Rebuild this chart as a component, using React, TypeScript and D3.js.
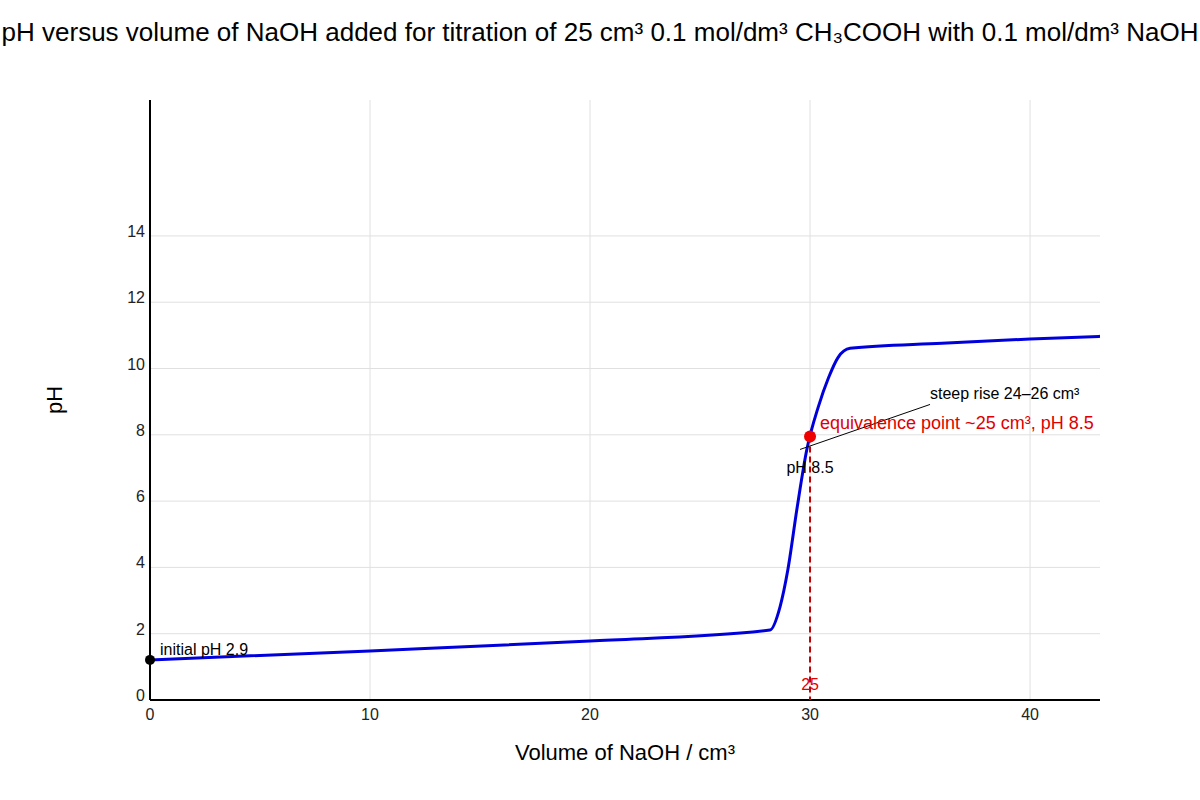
import React from "react";
import * as d3 from "d3";

const volumes = [0, 10, 20, 28.18, 28.64, 28.99, 29.42, 29.85, 30.38, 30.84, 31.27, 31.82, 36, 40, 43.18];
const phValues = [1.21, 1.48, 1.78, 2.11, 2.82, 3.92, 5.83, 7.54, 8.85, 9.72, 10.33, 10.61, 10.76, 10.89, 10.97];
const xTicks = [0, 10, 20, 30, 40];
const yTicks = [0, 2, 4, 6, 8, 10, 12, 14];
const equivalence = { x: 30, y: 7.95 };
const initialPoint = { x: 0, y: 1.21 };

const W = 1200;
const H = 800;
const M = { left: 150, right: 100, top: 100, bottom: 100 };
const FONT = "'Liberation Sans', Arial, sans-serif";

export default function App() {
  const x = d3.scaleLinear().domain([0, 43.18]).range([M.left, W - M.right]);
  const y = d3.scaleLinear().domain([0, 18.1]).range([H - M.bottom, M.top]);
  const line = d3
    .line<number>()
    .x((_, i) => x(volumes[i]))
    .y((d) => y(d))
    .curve(d3.curveMonotoneX);
  const path = line(phValues) || "";
  const ex = x(equivalence.x);
  const ey = y(equivalence.y);

  return (
    <svg width={W} height={H} style={{ position: "absolute", left: 0, top: 0, background: "#fff" }} fontFamily={FONT}>
      {/* grid */}
      {xTicks.filter((t) => t > 0).map((t) => (
        <line key={"gx" + t} x1={x(t)} x2={x(t)} y1={M.top} y2={H - M.bottom} stroke="#e0e0e0" strokeWidth={1} />
      ))}
      {yTicks.filter((t) => t > 0).map((t) => (
        <line key={"gy" + t} x1={M.left} x2={W - M.right} y1={y(t)} y2={y(t)} stroke="#e0e0e0" strokeWidth={1} />
      ))}
      {/* axes */}
      <line x1={M.left} x2={M.left} y1={M.top} y2={H - M.bottom} stroke="#000" strokeWidth={2} />
      <line x1={M.left} x2={W - M.right} y1={H - M.bottom} y2={H - M.bottom} stroke="#000" strokeWidth={2} />
      {xTicks.map((t) => (
        <text key={"tx" + t} x={x(t)} y={H - M.bottom + 20} textAnchor="middle" fontSize={16} fill="#222">
          {t}
        </text>
      ))}
      {yTicks.map((t) => (
        <text key={"ty" + t} x={M.left - 5} y={y(t) + 1} textAnchor="end" fontSize={16} fill="#222">
          {t}
        </text>
      ))}
      {/* dashed equivalence line */}
      <line x1={ex} x2={ex} y1={ey} y2={H - M.bottom} stroke="#c00000" strokeWidth={2} strokeDasharray="6,4" />
      <text x={ex} y={H - M.bottom - 10} textAnchor="middle" fontSize={16} fill="#e00000">25</text>
      {/* curve */}
      <path d={path} fill="none" stroke="#0000dd" strokeWidth={3} />
      {/* points */}
      <circle cx={ex} cy={ey} r={6} fill="#ee0000" />
      <circle cx={x(initialPoint.x)} cy={y(initialPoint.y)} r={5} fill="#000" />
      {/* annotations */}
      <text x={x(initialPoint.x) + 10} y={y(initialPoint.y) - 5} fontSize={16} fill="#000">initial pH 2.9</text>
      <text x={ex} y={ey + 37} textAnchor="middle" fontSize={16} fill="#000">pH 8.5</text>
      <line x1={ex - 10} x2={ex + 120} y1={ey + 13} y2={ey - 32} stroke="#000" strokeWidth={1} />
      <text x={ex + 120} y={ey - 37} fontSize={16} fill="#000">steep rise 24–26 cm³</text>
      <text x={ex + 10} y={ey - 7} fontSize={18} fill="#e00000">equivalence point ~25 cm³, pH 8.5</text>
      {/* titles */}
      <text x={W / 2} y={41} textAnchor="middle" fontSize={26} fill="#000">
        pH versus volume of NaOH added for titration of 25 cm³ 0.1 mol/dm³ CH₃COOH with 0.1 mol/dm³ NaOH
      </text>
      <text x={x(21.59)} y={760} textAnchor="middle" fontSize={22} fill="#000">Volume of NaOH / cm³</text>
      <text transform={`translate(62,${y(9.05)}) rotate(-90)`} textAnchor="middle" fontSize={22} fill="#000">pH</text>
    </svg>
  );
}
